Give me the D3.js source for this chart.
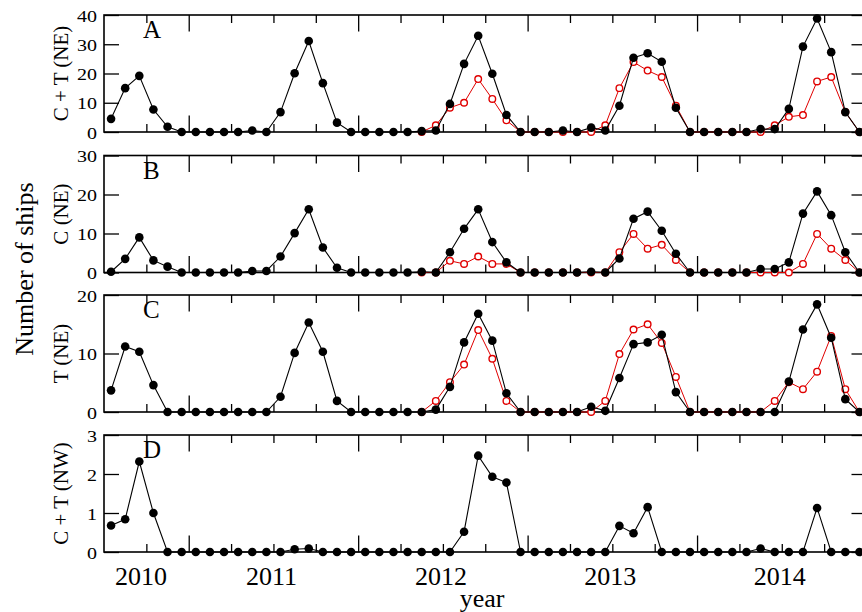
<!DOCTYPE html>
<html><head><meta charset="utf-8">
<script src="https://cdn.jsdelivr.net/npm/d3@7"></script>
<style>body{margin:0;background:#fff} svg{display:block}</style>
</head><body><svg id="c" width="862" height="612"></svg>
<script>
// ---- data (monthly, Jan 2010 .. Jun 2014) ----
const startYear = 2010;
const nMonths = 54;
const yearLabels = [2010, 2011, 2012, 2013, 2014];
const majorTicks = [2010.5, 2011.5, 2012.5, 2013.5, 2014.5];
const minorTicks = [2010.25, 2010.75, 2011, 2011.25, 2011.75, 2012, 2012.25, 2012.75, 2013, 2013.25, 2013.75, 2014, 2014.25];
const panelLetters = ["A", "B", "C", "D"];
const panelTitles = ["C + T (NE)", "C (NE)", "T (NE)", "C + T (NW)"];
const panelMax = [40, 30, 20, 3];
const panelTicks = [[0, 10, 20, 30, 40], [0, 10, 20, 30], [0, 10, 20], [0, 1, 2, 3]];

const blackA = [4.5, 15, 19.2, 7.7, 1.8, 0, 0, 0, 0, 0, 0.5, 0,
  6.8, 20.1, 31.1, 16.7, 3.2, 0, 0, 0, 0, 0, 0.3, 0.5,
  9.6, 23.3, 32.9, 19.9, 5.8, 0, 0, 0, 0.5, 0, 1.5, 0.5,
  9.0, 25.4, 26.9, 24.0, 8.3, 0, 0, 0, 0, 0, 1.0, 1.0,
  7.9, 29.2, 38.8, 27.3, 6.8, 0];
const blackB = [0.2, 3.5, 9.0, 3.1, 1.5, 0, 0, 0, 0, 0, 0.4, 0.4,
  4.1, 10.1, 16.2, 6.4, 1.2, 0, 0, 0, 0, 0, 0.2, 0,
  5.2, 11.2, 16.2, 7.8, 2.6, 0, 0, 0, 0, 0, 0.2, 0,
  3.6, 13.8, 15.6, 10.7, 4.8, 0, 0, 0, 0, 0, 0.9, 0.9,
  2.6, 15.1, 20.8, 14.7, 5.2, 0];
const blackC = [3.7, 11.2, 10.3, 4.6, 0, 0, 0, 0, 0, 0, 0, 0,
  2.6, 10.1, 15.3, 10.3, 1.9, 0, 0, 0, 0, 0, 0, 0.4,
  4.3, 11.9, 16.8, 12.2, 3.2, 0, 0, 0, 0, 0, 0.9, 0.2,
  5.8, 11.6, 11.9, 13.2, 3.4, 0, 0, 0, 0, 0, 0, 0,
  5.2, 14.1, 18.4, 12.7, 2.2, 0];
const blackD = [0.68, 0.84, 2.32, 1.0, 0, 0, 0, 0, 0, 0, 0, 0,
  0, 0.07, 0.09, 0, 0, 0, 0, 0, 0, 0, 0, 0,
  0, 0.52, 2.47, 1.93, 1.78, 0, 0, 0, 0, 0, 0, 0,
  0.67, 0.48, 1.15, 0, 0, 0, 0, 0, 0, 0, 0.09, 0,
  0, 0, 1.13, 0, 0, 0];

// red series start at month index 22 (Nov 2011)
const redStart = 22;
const redA = [0, 2.3, 8.3, 10.0, 18.1, 11.3, 4.0, 0, 0, 0, 0, 0, 0, 2.3,
  15.0, 23.9, 21.0, 18.8, 9.0, 0, 0, 0, 0, 0, 0, 2.3,
  5.2, 5.8, 17.3, 18.8, 6.8, 0];
const redB = [0, 0, 3.0, 2.2, 4.1, 2.2, 2.2, 0, 0, 0, 0, 0, 0, 0,
  5.2, 9.9, 6.1, 7.1, 3.2, 0, 0, 0, 0, 0, 0, 0,
  0, 2.2, 9.9, 6.1, 3.2, 0];
const redC = [0, 1.9, 5.1, 8.1, 14.0, 9.1, 1.9, 0, 0, 0, 0, 0, 0, 1.9,
  9.9, 14.1, 15.0, 11.8, 6.0, 0, 0, 0, 0, 0, 0, 1.9,
  5.1, 3.9, 6.9, 13.0, 3.9, 0];

const blackSeries = [blackA, blackB, blackC, blackD];
const redSeries = [redA, redB, redC, null];

// ---- layout ----
const svg = d3.select("#c");
const X0 = 104, X1 = 866.5;
const panelTop = [15, 155.5, 295, 435];
const panelH = 117;
const serif = "'Liberation Serif', 'Times New Roman', serif";
const RED = "#e00000";

const x = d3.scaleLinear().domain([startYear, startYear + 4.5]).range([X0, X1]);
const tOf = i => startYear + (i + 0.5) / 12;

panelTitles.forEach((title, p) => {
  const top = panelTop[p], bot = top + panelH;
  const y = d3.scaleLinear().domain([0, panelMax[p]]).range([bot, top]);
  const g = svg.append("g");

  // ticks via axes
  const left = g.append("g").attr("transform", `translate(${X0},0)`)
    .call(d3.axisLeft(y).tickValues(panelTicks[p]).tickSize(-15).tickPadding(7).tickFormat(d3.format("d")));
  const right = g.append("g").attr("transform", `translate(${X1},0)`)
    .call(d3.axisRight(y).tickValues(panelTicks[p]).tickSize(-15).tickFormat(""));
  const topMaj = g.append("g").attr("transform", `translate(0,${top})`)
    .call(d3.axisTop(x).tickValues(majorTicks).tickSize(-16.5).tickFormat(""));
  const topMin = g.append("g").attr("transform", `translate(0,${top})`)
    .call(d3.axisTop(x).tickValues(minorTicks).tickSize(-8).tickFormat(""));
  const botMaj = g.append("g").attr("transform", `translate(0,${bot})`)
    .call(d3.axisBottom(x).tickValues(majorTicks).tickSize(-16.5).tickFormat(""));
  const botMin = g.append("g").attr("transform", `translate(0,${bot})`)
    .call(d3.axisBottom(x).tickValues(minorTicks).tickSize(-8).tickFormat(""));
  [left, right, topMaj, topMin, botMaj, botMin].forEach(a => {
    a.select(".domain").remove();
    a.selectAll("line").attr("stroke", "#000").attr("stroke-width", 1.3);
  });
  left.selectAll("text")
    .attr("font-family", serif).attr("font-size", 20).attr("fill", "#000")
    .attr("dy", "0.36em")
    .attr("transform", "scale(1,0.86)");

  // frame
  g.append("rect").attr("x", X0).attr("y", top).attr("width", X1 - X0).attr("height", panelH)
    .attr("fill", "none").attr("stroke", "#000").attr("stroke-width", 1.6);

  // panel letter
  g.append("text").attr("x", 143).attr("y", top + 23)
    .attr("font-family", serif).attr("font-size", 25).attr("fill", "#000")
    .text(panelLetters[p]);

  // panel y title
  g.append("text")
    .attr("transform", `translate(68,${top + panelH / 2}) rotate(-90)`)
    .attr("text-anchor", "middle")
    .attr("font-family", serif).attr("font-size", 21).attr("fill", "#000")
    .text(title);

  // red series (drawn below black)
  const red = redSeries[p];
  if (red) {
    const line = d3.line().x((d, j) => x(tOf(redStart + j))).y(d => y(d));
    g.append("path").datum(red).attr("d", line)
      .attr("fill", "none").attr("stroke", RED).attr("stroke-width", 1);
    g.selectAll(".rc").data(red).join("circle")
      .attr("cx", (d, j) => x(tOf(redStart + j))).attr("cy", d => y(d))
      .attr("r", 3.3).attr("fill", "#fff").attr("stroke", RED).attr("stroke-width", 1.4);
  }

  // black series
  const blk = blackSeries[p];
  const lineB = d3.line().x((d, i) => x(tOf(i))).y(d => y(d));
  g.append("path").datum(blk).attr("d", lineB)
    .attr("fill", "none").attr("stroke", "#000").attr("stroke-width", 1.1);
  g.selectAll(".bc").data(blk).join("circle")
    .attr("cx", (d, i) => x(tOf(i))).attr("cy", d => y(d))
    .attr("r", 4.3).attr("fill", "#000");

  // year labels under bottom panel
  if (p === panelTitles.length - 1) {
    const yl = g.append("g").attr("transform", `translate(0,${bot})`)
      .call(d3.axisBottom(x).tickValues(yearLabels).tickSize(0).tickPadding(15).tickFormat(d3.format("d")));
    yl.select(".domain").remove();
    yl.selectAll(".tick").attr("transform", d => `translate(${Math.max(x(d) - 2, X0 + 37)},0)`);
    yl.selectAll("text").attr("font-family", serif).attr("font-size", 26).attr("fill", "#000");
  }
});

// axis titles
svg.append("text").attr("x", 482).attr("y", 607)
  .attr("text-anchor", "middle").attr("font-family", serif).attr("font-size", 26).text("year");
svg.append("text")
  .attr("transform", "translate(33,269) rotate(-90)")
  .attr("text-anchor", "middle").attr("font-family", serif).attr("font-size", 26).text("Number of ships");
</script>
</body></html>
